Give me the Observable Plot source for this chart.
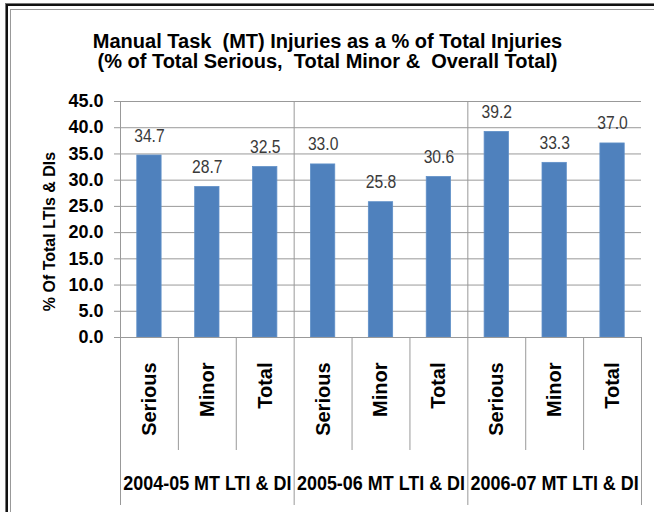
<!DOCTYPE html>
<html><head><meta charset="utf-8">
<script src="https://cdn.jsdelivr.net/npm/d3@7"></script>
<script src="https://cdn.jsdelivr.net/npm/@observablehq/plot@0.6"></script>
<style>
html,body{margin:0;padding:0;background:#fff;}
#wrap{position:relative;width:654px;height:512px;overflow:hidden;}
#wrap svg{position:absolute;left:0;top:0;}
.b1{position:absolute;left:6px;top:4px;width:700px;height:600px;border-left:2px solid #111;border-top:2px solid #111;box-shadow:-1px -1px 0 #777;}
.b2{position:absolute;left:10px;top:9px;width:700px;height:600px;border-left:1.5px solid #999;border-top:1.5px solid #999;}
</style></head><body><div id="wrap"><div class="b1"></div><div class="b2"></div></div>
<script>
const titleLines = ["Manual Task  (MT) Injuries as a % of Total Injuries", "(% of Total Serious,  Total Minor &  Overall Total)"];
const yTitle = "% Of Total LTIs & DIs";
const groups = ["2004-05 MT LTI & DI", "2005-06 MT LTI & DI", "2006-07 MT LTI & DI"];
const subcats = ["Serious", "Minor", "Total"];
const values2004 = [34.7, 28.7, 32.5];
const values2005 = [33.0, 25.8, 30.6];
const values2006 = [39.2, 33.3, 37.0];
const yTicks = [0, 5, 10, 15, 20, 25, 30, 35, 40, 45];

const series = [values2004, values2005, values2006];
const rows = groups.flatMap((g, gi) => subcats.map((c, ci) => ({
  group: g, cat: c, gi, ci, key: g + "|" + c, value: series[gi][ci]
})));
const keys = rows.map(d => d.key);

const W = 654, H = 512, mL = 120, mR = 13, mT = 101, mB = 175;
const plotW = W - mL - mR, plotH = H - mT - mB;
const step = plotW / keys.length;
const arial = "'Liberation Sans', Arial, sans-serif";
const gray = "#999";
const fmt = d => d.toFixed(1);

const chart = Plot.plot({
  width: W, height: H,
  marginLeft: mL, marginRight: mR, marginTop: mT, marginBottom: mB,
  style: {background: "transparent", fontFamily: arial, overflow: "visible"},
  x: {type: "band", domain: keys, paddingInner: 0.58, paddingOuter: 0.29, round: false, axis: null},
  y: {domain: [0, 45], axis: null},
  marks: [
    Plot.gridY({ticks: yTicks, stroke: gray, strokeOpacity: 1}),
    Plot.axisY({ticks: yTicks, tickSize: 6, tickPadding: 11, tickFormat: fmt,
      fontSize: 18, fontWeight: "bold", stroke: gray, fill: "#000", label: null}),
    Plot.barY(rows, {x: "key", y: "value", fill: "#4F81BD", stroke: "#5f8fc8", strokeWidth: 0.8}),
    Plot.ruleY([0], {stroke: gray}),
    Plot.ruleX(rows.filter(d => d.ci === 0), {x: "key", dx: -step / 2, insetTop: 0, insetBottom: -168, stroke: gray}),
    Plot.ruleX(rows.filter(d => d.ci > 0), {x: "key", dx: -step / 2, insetTop: plotH, insetBottom: -113, stroke: gray}),
    Plot.ruleX(rows.slice(-1), {x: "key", dx: step / 2, insetTop: plotH, insetBottom: -168, stroke: gray}),
    Plot.text(rows, {x: "key", y: "value", text: d => fmt(d.value), lineAnchor: "bottom", dy: -14,
      fontSize: 18, fill: "#3a3a3a"}),
    Plot.text(rows, {x: "key", y: 0, text: "cat", rotate: -90, textAnchor: "end", lineAnchor: "middle", dy: 25,
      fontSize: 20, fontWeight: "bold", fill: "#000"}),
    Plot.text(rows.filter(d => d.ci === 1), {x: "key", y: 0, text: "group", lineAnchor: "middle", dy: 146,
      fontSize: 21, fontWeight: "bold", fill: "#000"}),
    Plot.text([yTitle], {frameAnchor: "left", rotate: -90, textAnchor: "middle", lineAnchor: "middle", dx: -71, dy: 12,
      fontSize: 16, fontWeight: "bold", fill: "#000"}),
    Plot.text([titleLines[0]], {frameAnchor: "top", lineAnchor: "bottom", dx: W / 2 - (mL + plotW / 2), dy: 47 - mT,
      fontSize: 20, fontWeight: "bold", fill: "#000"}),
    Plot.text([titleLines[1]], {frameAnchor: "top", lineAnchor: "bottom", dx: W / 2 - (mL + plotW / 2), dy: 67 - mT,
      fontSize: 20, fontWeight: "bold", fill: "#000"})
  ]
});

// condense texts that use a narrow face in the reference (no narrow font is installed)
const squeeze = new Map([
  ...groups.map(g => [g, 0.855]),
  ...rows.map(d => [fmt(d.value), 0.87])
]);
d3.select(chart).selectAll("text").each(function() {
  if (this.closest('g[aria-label="y-axis tick label"]')) return;
  const s = squeeze.get(this.textContent);
  if (!s) return;
  const tr = this.getAttribute("transform");
  if (tr) this.setAttribute("transform", tr + ` scale(${s},1)`);
  else {
    const x = +this.getAttribute("x") || 0, y = +this.getAttribute("y") || 0;
    this.removeAttribute("x"); this.removeAttribute("y");
    this.setAttribute("transform", `translate(${x},${y}) scale(${s},1)`);
  }
});
document.getElementById("wrap").prepend(chart);
</script></body></html>
